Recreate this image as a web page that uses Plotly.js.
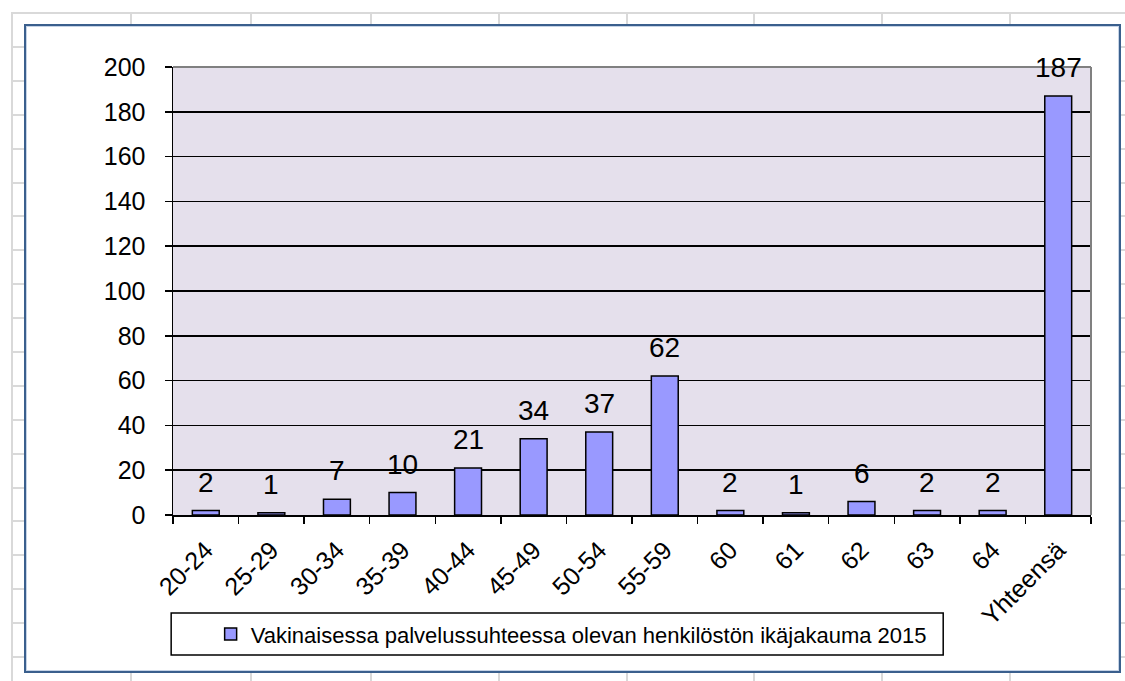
<!DOCTYPE html>
<html>
<head>
<meta charset="utf-8">
<script src="https://cdn.plot.ly/plotly-3.0.1.min.js"></script>
<style>
  html, body { margin: 0; padding: 0; background: #fff; }
  #sheet { position: relative; width: 1125px; height: 681px; overflow: hidden; background: #fff; }
  .gl { position: absolute; background: #d9d9d9; }
  #frame { position: absolute; left: 24px; top: 24px; width: 1093px; height: 645px;
           border: 2px solid #3a5f8d; background: #fff; box-shadow: inset 0 0 0 1px #c5d3e6; }
  #graph { position: absolute; left: 0; top: 0; width: 1125px; height: 681px; }
</style>
</head>
<body>
<div id="sheet">
  <div id="frame"></div>
  <div id="graph"></div>
</div>
<script>
const categories = ['20-24', '25-29', '30-34', '35-39', '40-44', '45-49', '50-54', '55-59',
                    '60', '61', '62', '63', '64', 'Yhteensä'];
const counts = [2, 1, 7, 10, 21, 34, 37, 62, 2, 1, 6, 2, 2, 187];
const seriesName = 'Vakinaisessa palvelussuhteessa olevan henkilöstön ikäjakauma 2015';

// spreadsheet grid behind the chart
const sheet = document.getElementById('sheet');
const colLines = [11, 130, 250, 370, 498, 626, 753, 881, 1009];
colLines.forEach(x => {
    const d = document.createElement('div');
    d.className = 'gl';
    d.style.cssText = `left:${x}px;top:12px;width:2px;height:681px;`;
    sheet.insertBefore(d, sheet.firstChild);
});
for (let y = 12; y < 681; y += 33.9) {
    const d = document.createElement('div');
    d.className = 'gl';
    d.style.cssText = `left:11px;top:${Math.round(y)}px;width:1114px;height:2px;`;
    sheet.insertBefore(d, sheet.firstChild);
}

const font = 'Arial, "Liberation Sans", sans-serif';

const bars = {
    type: 'bar',
    x: categories,
    y: counts,
    name: seriesName,
    marker: { color: '#9999ff', line: { color: '#000', width: 1.5 } },
    hoverinfo: 'x+y'
};

// value labels; x given as category index so '60'..'64' are not read as positions
const labels = counts.map((v, i) => ({
    x: i,
    y: v,
    text: String(v),
    showarrow: false,
    yanchor: 'bottom',
    yshift: 11,
    font: { family: font, size: 28, color: '#000' }
}));

const layout = {
    width: 1125,
    height: 681,
    margin: { l: 173, r: 34, t: 67, b: 166 },
    paper_bgcolor: 'rgba(0,0,0,0)',
    plot_bgcolor: '#e5e0ec',
    font: { family: font, size: 25, color: '#000' },
    bargap: 0.59,
    showlegend: true,
    legend: {
        orientation: 'h',
        x: 0.041, xanchor: 'left',
        y: -0.266, yanchor: 'middle',
        font: { family: font, size: 22, color: '#000' },
        bgcolor: 'rgba(0,0,0,0)',
        itemwidth: 30
    },
    xaxis: {
        type: 'category',
        range: [-0.5, categories.length - 0.5],
        autorange: false,
        tickangle: -45,
        ticks: 'outside',
        tickson: 'boundaries',
        ticklen: 7,
        tickcolor: '#000',
        tickwidth: 1.5,
        ticklabelstandoff: 9,
        showline: true,
        linecolor: '#000',
        linewidth: 1.5,
        showgrid: false,
        tickfont: { family: font, size: 25 }
    },
    yaxis: {
        range: [0, 200],
        autorange: false,
        dtick: 20,
        ticks: 'outside',
        ticklen: 7,
        tickcolor: '#000',
        tickwidth: 1.5,
        ticklabelstandoff: 14,
        showline: true,
        linecolor: '#000',
        linewidth: 1.5,
        showgrid: true,
        gridcolor: '#000',
        gridwidth: 1.5,
        zeroline: false,
        tickfont: { family: font, size: 25 }
    },
    shapes: [
        { type: 'line', xref: 'paper', yref: 'paper', x0: 0, x1: 1, y0: 1, y1: 1,
          line: { color: '#808080', width: 2 } },
        { type: 'line', xref: 'paper', yref: 'paper', x0: 1, x1: 1, y0: 0, y1: 1,
          line: { color: '#808080', width: 2 } },
        { type: 'rect', xref: 'paper', yref: 'paper', x0: -0.002, x1: 0.839, y0: -0.3125, y1: -0.219,
          line: { color: '#000', width: 1.5 } }
    ],
    annotations: labels
};

Plotly.newPlot('graph', [bars], layout, { displayModeBar: false, staticPlot: true });
</script>
</body>
</html>
